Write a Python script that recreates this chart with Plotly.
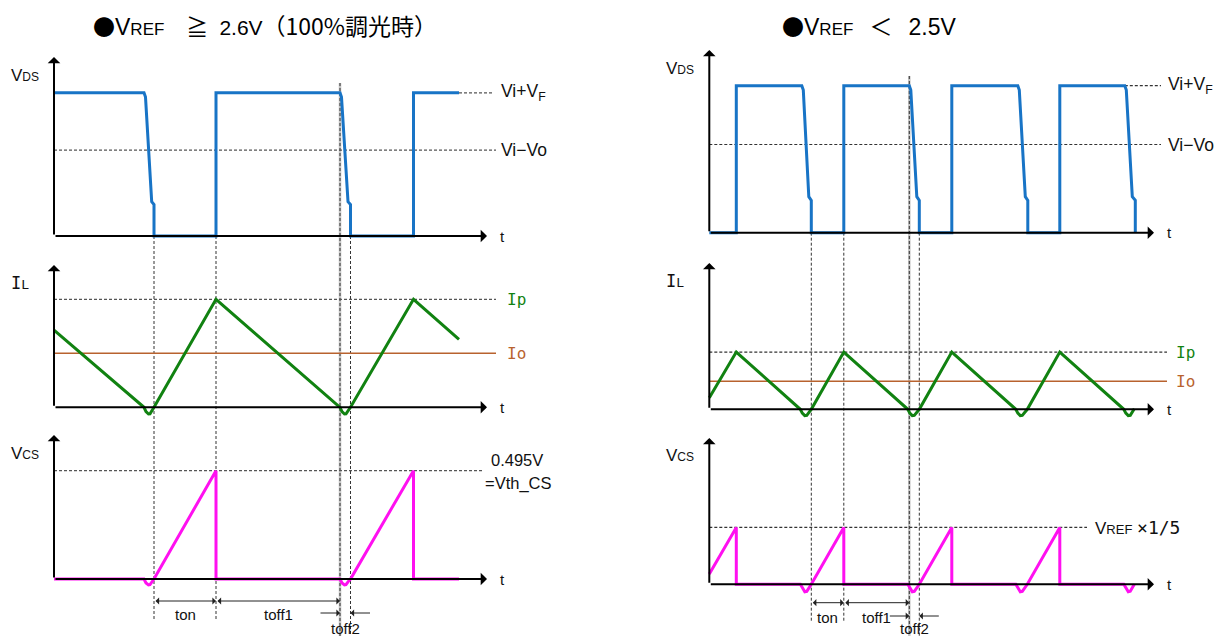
import plotly.graph_objects as go

W, H = 1223, 636
PX_T = 10  # px per time unit

# ---------------- data ----------------
# reference levels
VI_VF = 10          # V_DS high level (Vi+VF)
VI_VO = 6           # Vi-Vo
IP_L, IO_L = 10, 5      # left: Ip, Io
IP_R, IO_R = 5.3, 2.6   # right: Ip, Io
VTH_L = 0.495       # Vth_CS
VTH_R = 0.26        # VREF x 1/5

# left: VREF >= 2.6V
vds_l_t = [0, 9.0, 9.15, 9.77, 10.0, 10.0, 16.2, 16.2, 28.6, 28.75, 29.4, 29.65, 29.65, 35.95, 35.95, 40.5]
vds_l_v = [10, 10, 9.7, 2.4, 2.2, 0, 0, 10, 10, 9.7, 2.4, 2.2, 0, 0, 10, 10]

il_l_t = [0, 9.0, 9.2, 9.45, 9.6, 9.8, 10.0, 16.2, 28.6, 28.8, 29.05, 29.2, 29.4, 29.65, 35.95, 40.5]
il_l_v = [7.15, 0, -0.4, -0.62, -0.6, -0.3, 0, 10, 0, -0.4, -0.62, -0.6, -0.3, 0, 10, 6.3]

vcs_l_t = [0, 9.0, 9.2, 9.45, 9.6, 9.8, 10.0, 16.2, 16.2, 28.6, 28.8, 29.05, 29.2, 29.4, 29.65, 35.95, 35.95, 40.5]
vcs_l_v = [0, 0, -0.018, -0.027, -0.026, -0.013, 0, 0.495, 0, 0, -0.018, -0.027, -0.026, -0.013, 0, 0.495, 0, 0]

guides_l = [10.0, 16.2, 28.6, 29.65]
dims_l = {"ton": (10.0, 16.2), "toff1": (16.2, 28.6), "toff2": (28.6, 29.65)}

# right: VREF < 2.5V
vds_r_t = [0, 2.7, 2.7, 9.25, 9.4, 9.95, 10.2, 10.2, 13.45, 13.45, 20.0, 20.15, 20.75, 21.0, 21.0,
           24.25, 24.25, 30.85, 31.0, 31.6, 31.85, 31.85, 35.05, 35.05, 41.55, 41.7, 42.3, 42.6, 42.6]
vds_r_v = [0, 0, 10, 10, 9.7, 2.45, 2.2, 0, 0, 10, 10, 9.7, 2.45, 2.2, 0,
           0, 10, 10, 9.7, 2.45, 2.2, 0, 0, 10, 10, 9.7, 2.45, 2.2, 0]

il_r_t = [0, 2.7, 9.1, 9.3, 9.55, 9.75, 9.95, 10.2, 13.45, 19.85, 20.05, 20.3, 20.5, 20.75, 21.0,
          24.25, 30.65, 30.85, 31.1, 31.3, 31.55, 31.8, 35.05, 41.45, 41.65, 41.9, 42.1, 42.3, 42.5]
il_r_v = [1.07, 5.3, 0, -0.35, -0.58, -0.56, -0.3, 0, 5.3, 0, -0.35, -0.58, -0.56, -0.3, 0,
          5.3, 0, -0.35, -0.58, -0.56, -0.3, 0, 5.3, 0, -0.35, -0.58, -0.56, -0.3, 0.05]

vcs_r_t = [0, 2.7, 2.7, 9.1, 9.3, 9.55, 9.75, 9.95, 10.2, 13.45, 13.45, 19.85, 20.05, 20.3, 20.5, 20.75, 21.0,
           24.25, 24.25, 30.65, 30.85, 31.1, 31.3, 31.55, 31.8, 35.05, 35.05, 41.45, 41.65, 41.9, 42.1, 42.3, 42.5]
vcs_r_v = [0.047, 0.26, 0, 0, -0.015, -0.034, -0.032, -0.015, 0, 0.26, 0, 0, -0.015, -0.034, -0.032, -0.015, 0,
           0.26, 0, 0, -0.015, -0.034, -0.032, -0.015, 0, 0.26, 0, 0, -0.015, -0.034, -0.032, -0.015, 0]

guides_r = [10.2, 13.45, 20.0, 21.0]
dims_r = {"ton": (10.2, 13.45), "toff1": (13.45, 20.0), "toff2": (20.0, 21.0)}

# ---------------- layout helpers ----------------
BLUE = "#1874C6"
GREEN = "#118211"
MAGENTA = "#FF10F0"
BROWN = "#B8622E"
DASH = "3px,2px"
FONT = "Liberation Sans, Noto Sans CJK JP, sans-serif"
CJK = "Noto Sans CJK JP"
MONO = "DejaVu Sans Mono"

# x axes: origin pixel of t=0 for each column
X0 = {"x": 54, "x2": 709.3}
XDOM = {"x": (0, 611), "x2": (611, 1223)}
# y axes: (baseline px, px per unit, domain top px, domain bottom px)
YAX = {
    "y": (236, 14.32, 40, 250),
    "y2": (407.3, 10.8, 250, 425),
    "y3": (579, 218.8, 425, 636),
    "y4": (232.7, 14.7, 40, 250),
    "y5": (409.3, 10.8, 250, 425),
    "y6": (584.3, 218.8, 425, 636),
}


def px_t(xref, px):
    return (px - X0[xref]) / PX_T


def px_v(yref, px):
    base, unit, _, _ = YAX[yref]
    return (base - px) / unit


fig = go.Figure()
ann = []
shapes = []


def line(xr, yr, x, y, color, width, dash=None):
    fig.add_trace(go.Scatter(x=x, y=y, xaxis=xr, yaxis=yr, mode="lines",
                             line=dict(color=color, width=width, dash=dash),
                             hoverinfo="skip", showlegend=False))


def text(xr, yr, x, y, s, size=16, color="#111", xanchor="center", family=FONT):
    ann.append(dict(x=x, y=y, xref=xr, yref=yr, text=s, showarrow=False,
                    xanchor=xanchor, yanchor="middle", font=dict(size=size, color=color, family=family)))


def arrow(xr, yr, x, y, ax, ay, width=2, size=1.05, color="#000", both=False):
    ann.append(dict(x=x, y=y, ax=ax, ay=ay, xref=xr, yref=yr, axref=xr, ayref=yr, text="",
                    showarrow=True, arrowhead=1, arrowsize=size, arrowwidth=width, arrowcolor=color,
                    arrowside="end+start" if both else "end", startarrowhead=1, startarrowsize=size,
                    standoff=0, startstandoff=0))


def small(big, sm, size=16, smsize=12):
    return f"<span style='font-size:{size}px'>{big}</span><span style='font-size:{smsize}px'>{sm}</span>"


def span(s, size, family=None):
    fam = f"font-family:{family};" if family else ""
    return f"<span style='{fam}font-size:{size}px'>{s}</span>"


# ---------------- reference lines ----------------
line("x", "y", [0, px_t("x", 496)], [VI_VO, VI_VO], "#555", 1.2, DASH)
line("x", "y", [vds_l_t[-1], px_t("x", 494)], [VI_VF, VI_VF], "#555", 1.2, DASH)
line("x", "y2", [0, px_t("x", 496)], [IP_L, IP_L], "#555", 1.2, DASH)
line("x", "y2", [0, px_t("x", 496)], [IO_L, IO_L], BROWN, 1.5)
line("x", "y3", [0, px_t("x", 482)], [VTH_L, VTH_L], "#555", 1.2, DASH)

line("x2", "y4", [0, px_t("x2", 1161)], [VI_VO, VI_VO], "#333", 1.2, DASH)
line("x2", "y4", [vds_r_t[-5], px_t("x2", 1161)], [VI_VF, VI_VF], "#333", 1.2, DASH)
line("x2", "y5", [0, px_t("x2", 1167)], [IP_R, IP_R], "#333", 1.2, DASH)
line("x2", "y5", [0, px_t("x2", 1167)], [IO_R, IO_R], BROWN, 1.5)
line("x2", "y6", [0, px_t("x2", 1087)], [VTH_R, VTH_R], "#333", 1.2, DASH)

# ---------------- waveforms ----------------
line("x", "y", vds_l_t, vds_l_v, BLUE, 3)
line("x", "y2", il_l_t, il_l_v, GREEN, 3)
line("x", "y3", vcs_l_t, vcs_l_v, MAGENTA, 3)
line("x2", "y4", vds_r_t, vds_r_v, BLUE, 3)
line("x2", "y5", il_r_t, il_r_v, GREEN, 3)
line("x2", "y6", vcs_r_t, vcs_r_v, MAGENTA, 3)

# axes with arrow heads
tops = {"y": 57, "y2": 265, "y3": 435, "y4": 50, "y5": 263, "y6": 438}
for xr, yrs, end_px in (("x", ("y", "y2", "y3"), 487), ("x2", ("y4", "y5", "y6"), 1154)):
    for yr in yrs:
        arrow(xr, yr, px_t(xr, end_px), 0, 0, 0)
        arrow(xr, yr, 0, px_v(yr, tops[yr]), 0, 0)
        text(xr, yr, px_t(xr, end_px + 15), 0, "t", 15)


# vertical guide lines
def guides(xr, ts, top_main, top_grey, bot_short):
    spans = [(top_main, bot_short), (top_main, bot_short), (top_grey, H), (top_main, H)]
    for i, (t, (y0, y1)) in enumerate(zip(ts, spans)):
        if i == 2:
            shapes.append(dict(type="line", xref=xr, yref="paper", x0=t, x1=t, y0=1 - y0 / H, y1=1 - y1 / H,
                               line=dict(color="#c4c4c4", width=2.5), layer="below"))
        shapes.append(dict(type="line", xref=xr, yref="paper", x0=t, x1=t, y0=1 - y0 / H, y1=1 - y1 / H,
                           line=dict(color="#333", width=1, dash=DASH), layer="below"))


guides("x", guides_l, 236, 83, 620)
guides("x2", guides_r, 232.7, 76, 621.7)


# dimension arrows
def dims(xr, yr, d, y_px, y2_px, lab_px, lab2_px):
    ton, toff1, toff2 = d["ton"], d["toff1"], d["toff2"]
    y = px_v(yr, y_px)
    arrow(xr, yr, ton[1], y, ton[0], y, width=1, size=1.2, color="#222", both=True)
    arrow(xr, yr, toff1[1], y, toff1[0], y, width=1, size=1.2, color="#222", both=True)
    y2 = px_v(yr, y2_px)
    arrow(xr, yr, toff2[0], y2, toff2[0] - 2.1, y2, width=1, size=1.2, color="#222")
    arrow(xr, yr, toff2[1], y2, toff2[1] + 2.1, y2, width=1, size=1.2, color="#222")
    text(xr, yr, (ton[0] + ton[1]) / 2, px_v(yr, lab_px), "ton", 15)
    text(xr, yr, (toff1[0] + toff1[1]) / 2, px_v(yr, lab_px), "toff1", 15)
    text(xr, yr, (toff2[0] + toff2[1]) / 2, px_v(yr, lab2_px), "toff2", 15)


dims("x", "y3", dims_l, 601, 613, 614, 628)
dims("x2", "y6", dims_r, 602.7, 616, 617, 628)

# ---------------- labels ----------------
text("x", "y", px_t("x", 25), px_v("y", 75), small("V", "DS", 17, 12), 17)
text("x", "y2", px_t("x", 20), px_v("y2", 283), small("I", "L", 17, 13), 17, family=MONO)
text("x", "y3", px_t("x", 25), px_v("y3", 453), small("V", "CS", 17, 12), 17)
text("x", "y", px_t("x", 499), VI_VF, "Vi+V<sub>F</sub>", 17.5, xanchor="left")
text("x", "y", px_t("x", 499), VI_VO, "Vi\u2212Vo", 17.5, xanchor="left")
text("x", "y2", px_t("x", 505), IP_L, "Ip", 16, GREEN, "left", MONO)
text("x", "y2", px_t("x", 505), IO_L, "Io", 16, BROWN, "left", MONO)
text("x", "y3", px_t("x", 517), px_v("y3", 460), "0.495V", 16.5)
text("x", "y3", px_t("x", 518), px_v("y3", 483), "=Vth_CS", 16.5)

text("x2", "y4", px_t("x2", 680), px_v("y4", 68), small("V", "DS", 17, 12), 17)
text("x2", "y5", px_t("x2", 675), px_v("y5", 281), small("I", "L", 17, 13), 17, family=MONO)
text("x2", "y6", px_t("x2", 680), px_v("y6", 455), small("V", "CS", 17, 12), 17)
text("x2", "y4", px_t("x2", 1166), VI_VF, "Vi+V<sub>F</sub>", 17.5, xanchor="left")
text("x2", "y4", px_t("x2", 1166), VI_VO, "Vi\u2212Vo", 17.5, xanchor="left")
text("x2", "y5", px_t("x2", 1174), IP_R, "Ip", 16, GREEN, "left", MONO)
text("x2", "y5", px_t("x2", 1174), IO_R, "Io", 16, BROWN, "left", MONO)
text("x2", "y6", px_t("x2", 1093), VTH_R,
     small("V", "REF", 17, 13) + " " + span("\u00d71/5", 18, MONO), 17, xanchor="left")

# titles
ann.append(dict(x=91 / W, y=1 - 25 / H, xref="paper", yref="paper", xanchor="left", yanchor="middle",
                showarrow=False, font=dict(size=21, color="#000", family=FONT),
                text=span("\u25cf", 22, CJK) + small("V", "REF", 23, 17)
                     + span("\u3000\u2267\u2002", 22, CJK) + span("2.6V", 21)
                     + span("\uff08100%調光時\uff09", 23, CJK)))
ann.append(dict(x=780 / W, y=1 - 25 / H, xref="paper", yref="paper", xanchor="left", yanchor="middle",
                showarrow=False, font=dict(size=21, color="#000", family=FONT),
                text=span("\u25cf", 22, CJK) + small("V", "REF", 23, 17)
                     + span("\u2002\u2009\uff1c\u2002\u2009", 23, CJK) + span("2.5V", 23)))

layout = dict(width=W, height=H, margin=dict(l=0, r=0, t=0, b=0), paper_bgcolor="white",
              plot_bgcolor="white", showlegend=False, annotations=ann, shapes=shapes)
for xr in ("x", "x2"):
    d0, d1 = XDOM[xr]
    key = "xaxis" if xr == "x" else "xaxis2"
    layout[key] = dict(domain=[d0 / W, d1 / W], range=[px_t(xr, d0), px_t(xr, d1)], visible=False,
                       fixedrange=True, anchor="y" if xr == "x" else "y4")
for yr, (base, unit, top, bot) in YAX.items():
    key = "yaxis" if yr == "y" else "yaxis" + yr[1:]
    layout[key] = dict(domain=[1 - bot / H, 1 - top / H], range=[px_v(yr, bot), px_v(yr, top)],
                       visible=False, fixedrange=True, anchor="x" if yr in ("y", "y2", "y3") else "x2")

fig.update_layout(**layout)
fig.write_html("out.html", config={"displayModeBar": False},
               post_script="document.body.style.margin='0';")
